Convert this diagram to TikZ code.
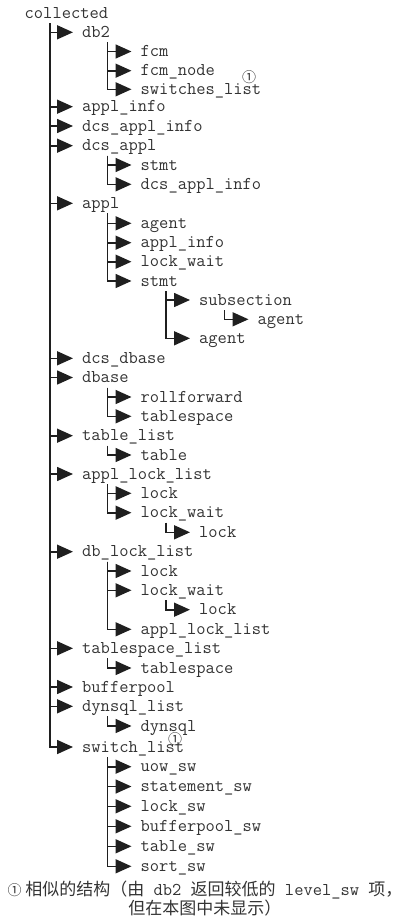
\documentclass[tikz,border=0pt]{standalone}
\usepackage{fontspec}
\newfontfamily\cjk{Noto Sans CJK SC}
\usetikzlibrary{arrows.meta}

\begin{document}
\begin{tikzpicture}[x=1pt,y=-1pt]
\tikzstyle{item}=[anchor=west, inner xsep=9pt, inner ysep=0pt, text height=10pt, text depth=0pt, font=\ttfamily\fontsize{18}{18}\selectfont, text=black!80]
\tikzstyle{branch}=[draw=black!88, line width=1.6pt, -{Triangle[length=16pt,width=14pt]}]
\tikzstyle{notemark}=[inner sep=0pt, font=\cjk\fontsize{14}{14}\selectfont, text=black!80]
\tikzstyle{note}=[align=center, inner sep=0pt, font=\cjk\fontsize{17}{19}\selectfont, text=black!80]
\useasboundingbox (0,0) rectangle (404,921);
\node[item] (collected) at (15.5, 13.3) {collected};
\node[item] (db2) at (73, 32.3) {db2};
\node[item] (fcm) at (131.5, 51.5) {fcm};
\node[item] (fcmnode) at (131.5, 70.7) {fcm\_node};
\node[item] (switcheslist) at (131.5, 89.3) {switches\_list};
\node[item] (applinfo) at (73, 106.7) {appl\_info};
\node[item] (dcsapplinfo) at (73, 126) {dcs\_appl\_info};
\node[item] (dcsappl) at (73, 145.7) {dcs\_appl};
\node[item] (dcsstmt) at (131.5, 165) {stmt};
\node[item] (dcsdcsapplinfo) at (131.5, 184.3) {dcs\_appl\_info};
\node[item] (appl) at (73, 203.3) {appl};
\node[item] (applagent) at (131.5, 223.3) {agent};
\node[item] (applapplinfo) at (131.5, 242.7) {appl\_info};
\node[item] (appllockwait) at (131.5, 261.7) {lock\_wait};
\node[item] (applstmt) at (131.5, 281) {stmt};
\node[item] (subsection) at (190, 300) {subsection};
\node[item] (subagent) at (248.5, 319.3) {agent};
\node[item] (stmtagent) at (190, 338.3) {agent};
\node[item] (dcsdbase) at (73, 358.3) {dcs\_dbase};
\node[item] (dbase) at (73, 377.5) {dbase};
\node[item] (rollforward) at (131.5, 397) {rollforward};
\node[item] (dbtablespace) at (131.5, 416.3) {tablespace};
\node[item] (tablelist) at (73, 435.7) {table\_list};
\node[item] (table) at (131.5, 455) {table};
\node[item] (appllocklist) at (73, 474) {appl\_lock\_list};
\node[item] (alllock) at (131.5, 493.3) {lock};
\node[item] (alllockwait) at (131.5, 512.7) {lock\_wait};
\node[item] (alllwlock) at (190, 532.3) {lock};
\node[item] (dblocklist) at (73, 551.7) {db\_lock\_list};
\node[item] (dbllock) at (131.5, 571) {lock};
\node[item] (dbllockwait) at (131.5, 590.3) {lock\_wait};
\node[item] (dbllwlock) at (190, 609.7) {lock};
\node[item] (dblappllocklist) at (131.5, 629.3) {appl\_lock\_list};
\node[item] (tablespacelist) at (73, 648.3) {tablespace\_list};
\node[item] (tsltablespace) at (131.5, 668) {tablespace};
\node[item] (bufferpool) at (73, 687) {bufferpool};
\node[item] (dynsqllist) at (73, 706.3) {dynsql\_list};
\node[item] (dynsql) at (131.5, 726) {dynsql};
\node[item] (switchlist) at (73, 747) {switch\_list};
\node[item] (uowsw) at (131.5, 766.7) {uow\_sw};
\node[item] (statementsw) at (131.5, 786.5) {statement\_sw};
\node[item] (locksw) at (131.5, 806.3) {lock\_sw};
\node[item] (bufferpoolsw) at (131.5, 826.3) {bufferpool\_sw};
\node[item] (tablesw) at (131.5, 846.3) {table\_sw};
\node[item] (sortsw) at (131.5, 866.3) {sort\_sw};
\node[notemark] (markA) at (249, 77) {①};
\node[notemark] (markB) at (175, 739) {①};
\node[note] (footnote) at (205, 899) {{\fontsize{14}{14}\selectfont ①}\ 相似的结构（由{\ttfamily\fontsize{18}{19}\selectfont\ db2\ }返回较低的{\ttfamily\fontsize{18}{19}\selectfont\ level\_sw\ }项，\\但在本图中未显示）};
\draw [branch] ([xshift=34.5pt,yshift=-10pt]collected.west) |- (db2.west);
\draw [branch] ([xshift=34.5pt,yshift=-10pt]collected.west) |- (applinfo.west);
\draw [branch] ([xshift=34.5pt,yshift=-10pt]collected.west) |- (dcsapplinfo.west);
\draw [branch] ([xshift=34.5pt,yshift=-10pt]collected.west) |- (dcsappl.west);
\draw [branch] ([xshift=34.5pt,yshift=-10pt]collected.west) |- (appl.west);
\draw [branch] ([xshift=34.5pt,yshift=-10pt]collected.west) |- (dcsdbase.west);
\draw [branch] ([xshift=34.5pt,yshift=-10pt]collected.west) |- (dbase.west);
\draw [branch] ([xshift=34.5pt,yshift=-10pt]collected.west) |- (tablelist.west);
\draw [branch] ([xshift=34.5pt,yshift=-10pt]collected.west) |- (appllocklist.west);
\draw [branch] ([xshift=34.5pt,yshift=-10pt]collected.west) |- (dblocklist.west);
\draw [branch] ([xshift=34.5pt,yshift=-10pt]collected.west) |- (tablespacelist.west);
\draw [branch] ([xshift=34.5pt,yshift=-10pt]collected.west) |- (bufferpool.west);
\draw [branch] ([xshift=34.5pt,yshift=-10pt]collected.west) |- (dynsqllist.west);
\draw [branch] ([xshift=34.5pt,yshift=-10pt]collected.west) |- (switchlist.west);
\draw [branch] ([xshift=34.5pt,yshift=-10pt]db2.west) |- (fcm.west);
\draw [branch] ([xshift=34.5pt,yshift=-10pt]db2.west) |- (fcmnode.west);
\draw [branch] ([xshift=34.5pt,yshift=-10pt]db2.west) |- (switcheslist.west);
\draw [branch] ([xshift=34.5pt,yshift=-10pt]dcsappl.west) |- (dcsstmt.west);
\draw [branch] ([xshift=34.5pt,yshift=-10pt]dcsappl.west) |- (dcsdcsapplinfo.west);
\draw [branch] ([xshift=34.5pt,yshift=-10pt]appl.west) |- (applagent.west);
\draw [branch] ([xshift=34.5pt,yshift=-10pt]appl.west) |- (applapplinfo.west);
\draw [branch] ([xshift=34.5pt,yshift=-10pt]appl.west) |- (appllockwait.west);
\draw [branch] ([xshift=34.5pt,yshift=-10pt]appl.west) |- (applstmt.west);
\draw [branch] ([xshift=34.5pt,yshift=-10pt]applstmt.west) |- (subsection.west);
\draw [branch] ([xshift=34.5pt,yshift=-10pt]applstmt.west) |- (stmtagent.west);
\draw [branch] ([xshift=34.5pt,yshift=-10pt]subsection.west) |- (subagent.west);
\draw [branch] ([xshift=34.5pt,yshift=-10pt]dbase.west) |- (rollforward.west);
\draw [branch] ([xshift=34.5pt,yshift=-10pt]dbase.west) |- (dbtablespace.west);
\draw [branch] ([xshift=34.5pt,yshift=-10pt]tablelist.west) |- (table.west);
\draw [branch] ([xshift=34.5pt,yshift=-10pt]appllocklist.west) |- (alllock.west);
\draw [branch] ([xshift=34.5pt,yshift=-10pt]appllocklist.west) |- (alllockwait.west);
\draw [branch] ([xshift=34.5pt,yshift=-10pt]alllockwait.west) |- (alllwlock.west);
\draw [branch] ([xshift=34.5pt,yshift=-10pt]dblocklist.west) |- (dbllock.west);
\draw [branch] ([xshift=34.5pt,yshift=-10pt]dblocklist.west) |- (dbllockwait.west);
\draw [branch] ([xshift=34.5pt,yshift=-10pt]dblocklist.west) |- (dblappllocklist.west);
\draw [branch] ([xshift=34.5pt,yshift=-10pt]dbllockwait.west) |- (dbllwlock.west);
\draw [branch] ([xshift=34.5pt,yshift=-10pt]tablespacelist.west) |- (tsltablespace.west);
\draw [branch] ([xshift=34.5pt,yshift=-10pt]dynsqllist.west) |- (dynsql.west);
\draw [branch] ([xshift=34.5pt,yshift=-10pt]switchlist.west) |- (uowsw.west);
\draw [branch] ([xshift=34.5pt,yshift=-10pt]switchlist.west) |- (statementsw.west);
\draw [branch] ([xshift=34.5pt,yshift=-10pt]switchlist.west) |- (locksw.west);
\draw [branch] ([xshift=34.5pt,yshift=-10pt]switchlist.west) |- (bufferpoolsw.west);
\draw [branch] ([xshift=34.5pt,yshift=-10pt]switchlist.west) |- (tablesw.west);
\draw [branch] ([xshift=34.5pt,yshift=-10pt]switchlist.west) |- (sortsw.west);
\end{tikzpicture}
\end{document}
